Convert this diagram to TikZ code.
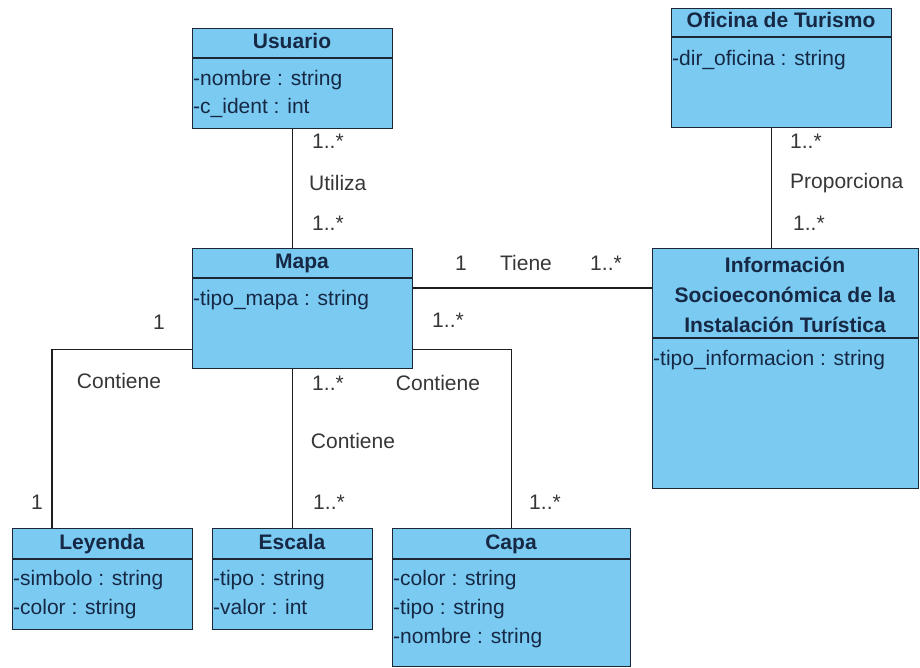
\documentclass[tikz,border=0pt]{standalone}
\usepackage{fontspec}
\setmainfont{Liberation Sans}
\usetikzlibrary{calc}
\definecolor{classfill}{RGB}{122,202,242}
\definecolor{classedge}{RGB}{28,38,52}
\definecolor{classtext}{RGB}{22,40,68}
\definecolor{linkcol}{RGB}{30,30,30}
\definecolor{labelcol}{RGB}{55,55,55}

\begin{document}
\begin{tikzpicture}[x=1pt,y=-1pt,
  classbox/.style={draw=classedge, fill=classfill, line width=1.4pt, inner sep=0pt, anchor=north west},
  sep/.style={draw=classedge, line width=1.4pt},
  ctitle/.style={font=\fontsize{21}{30}\selectfont\bfseries, text=classtext, inner sep=0pt, text height=15pt, text depth=4pt},
  cattr/.style={font=\fontsize{21}{25}\selectfont, text=classtext, anchor=west, inner sep=0pt, text height=15pt, text depth=4pt},
  link/.style={draw=linkcol, line width=1.1pt},
  lbl/.style={font=\fontsize{21}{25}\selectfont, text=labelcol, inner sep=0pt, text height=15pt, text depth=4pt},
]
\useasboundingbox[fill=white] (0,0) rectangle (920,668);

% ---------- classes ----------
% Usuario
\node[classbox, minimum width=200pt, minimum height=100pt] (usuario) at (192,28) {};
\draw[sep] (192,58) -- (392,58);
\node[ctitle] (usuarioT) at (292,43) {Usuario};
\node[cattr] (usuarioA1) at (193,80) {-nombre : string};
\node[cattr] (usuarioA2) at (193,108) {-c\_ident : int};

% Oficina de Turismo
\node[classbox, minimum width=220pt, minimum height=119pt] (oficina) at (671,8) {};
\draw[sep] (671,37) -- (891,37);
\node[ctitle] (oficinaT) at (781,22) {Oficina de Turismo};
\node[cattr] (oficinaA1) at (672,60) {-dir\_oficina : string};

% Mapa
\node[classbox, minimum width=220pt, minimum height=120pt] (mapa) at (192,248) {};
\draw[sep] (192,278) -- (412,278);
\node[ctitle] (mapaT) at (302,263) {Mapa};
\node[cattr] (mapaA1) at (193,300) {-tipo\_mapa : string};

% Informacion Socioeconomica
\node[classbox, minimum width=266pt, minimum height=240pt] (info) at (652,248) {};
\draw[sep] (652,338) -- (918,338);
\node[ctitle, align=center, text height=, text depth=] (infoT) at (785,295)
  {Información\\Socioeconómica de la\\Instalación Turística};
\node[cattr] (infoA1) at (653,360) {-tipo\_informacion : string};

% Leyenda
\node[classbox, minimum width=180pt, minimum height=101pt] (leyenda) at (12,528) {};
\draw[sep] (12,559) -- (192,559);
\node[ctitle] (leyendaT) at (102,544) {Leyenda};
\node[cattr] (leyendaA1) at (13,580) {-simbolo : string};
\node[cattr] (leyendaA2) at (13,609) {-color : string};

% Escala
\node[classbox, minimum width=160pt, minimum height=101pt] (escala) at (212,528) {};
\draw[sep] (212,559) -- (372,559);
\node[ctitle] (escalaT) at (292,544) {Escala};
\node[cattr] (escalaA1) at (213,580) {-tipo : string};
\node[cattr] (escalaA2) at (213,609) {-valor : int};

% Capa
\node[classbox, minimum width=238pt, minimum height=138pt] (capa) at (392,528) {};
\draw[sep] (392,559) -- (630,559);
\node[ctitle] (capaT) at (511,544) {Capa};
\node[cattr] (capaA1) at (393,580) {-color : string};
\node[cattr] (capaA2) at (393,609) {-tipo : string};
\node[cattr] (capaA3) at (393,638) {-nombre : string};

% ---------- associations ----------
\coordinate (ofiDrop) at ($(oficina.south)+(-10,0)$);
\coordinate (mapaLow) at ($(mapa.south west)+(0,-20)$);
\coordinate (mapaLowR) at ($(mapa.south east)+(0,-20)$);
\coordinate (mapaMid) at ($(mapa.north east)+(0,40)$);

\draw[link] (usuario.south) -- (usuario.south |- mapa.north);
\draw[link] (ofiDrop) -- (ofiDrop |- info.north);
\draw[link] (mapaMid) -- (mapaMid -| info.west);
\draw[link] (mapaLow) -- ($(mapaLow -| leyenda.north west)+(40,0)$) -- ($(leyenda.north west)+(40,0)$);
\draw[link] (escala.north |- mapa.south) -- (escala.north);
\draw[link] (mapaLowR) -- (mapaLowR -| capa.north) -- (capa.north);

% ---------- labels ----------
\node[lbl, anchor=west] (l1) at (312,143) {1..*};
\node[lbl, anchor=west] (l2) at (309,185) {Utiliza};
\node[lbl, anchor=west] (l3) at (312,225) {1..*};

\node[lbl, anchor=west] (l4) at (790,143) {1..*};
\node[lbl, anchor=west] (l5) at (790,183) {Proporciona};
\node[lbl, anchor=west] (l6) at (793,225) {1..*};

\node[lbl] (l7) at (461,265) {1};
\node[lbl] (l8) at (526,265) {Tiene};
\node[lbl] (l9) at (606,265) {1..*};

\node[lbl] (l10) at (159,324) {1};
\node[lbl] (l11) at (119,383) {Contiene};
\node[lbl] (l12) at (37,504) {1};

\node[lbl] (l13) at (448,322) {1..*};
\node[lbl] (l14) at (328,385) {1..*};
\node[lbl] (l15) at (438,385) {Contiene};
\node[lbl] (l16) at (353,443) {Contiene};
\node[lbl] (l17) at (329,504) {1..*};
\node[lbl] (l18) at (545,504) {1..*};
\end{tikzpicture}
\end{document}
